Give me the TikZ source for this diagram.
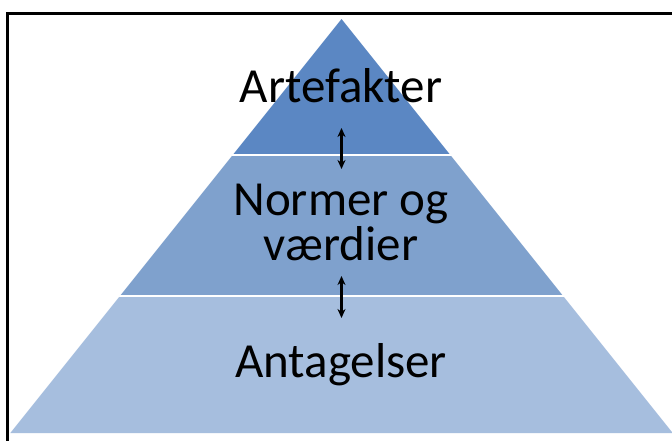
\documentclass[tikz,border=0pt]{standalone}
\usepackage{fontspec}
\setmainfont{Carlito}
\usetikzlibrary{arrows.meta}
\definecolor{tierTop}{RGB}{91,135,195}
\definecolor{tierMid}{RGB}{127,161,205}
\definecolor{tierLow}{RGB}{166,190,222}
\tikzset{
  label/.style={anchor=base, font=\fontsize{49}{49}\selectfont, text=black, inner sep=0pt},
  link/.style={{Stealth[length=9pt,width=8pt]}-{Stealth[length=9pt,width=8pt]}, line width=2.4pt, black},
  divider/.style={white, line width=2pt}
}
\begin{document}
\begin{tikzpicture}[x=1pt,y=-1pt]
\useasboundingbox (0,0) rectangle (672,441);
\clip (0,0) rectangle (672,441);
\fill[white] (0,0) rectangle (672,441);
% outer frame
\draw[line width=3pt] (7.5,13.5) rectangle (690,460);
% pyramid tiers: apex (341.5,19), base y=433 from x=10 to x=673
\coordinate (apex) at (341.5,19);
\fill[tierTop] (apex) -- (341.5-0.8*136,155) -- (341.5+0.8*136,155) -- cycle;
\fill[tierMid] (341.5-0.8*137,156) -- (341.5+0.8*137,156) -- (341.5+0.8*277,296) -- (341.5-0.8*277,296) -- cycle;
\fill[tierLow] (341.5-0.8*278,297) -- (341.5+0.8*278,297) -- (341.5+0.8*414,433) -- (341.5-0.8*414,433) -- cycle;
\draw[divider] (341.5-0.8*136.5,155.5) -- (341.5+0.8*136.5+2,155.5);
\draw[divider] (341.5-0.8*276.5,296) -- (341.5+0.8*276.5+2,296);
% labels
\node[label] (art) at (341,103) {Artefakter};
\node[label] (norm) at (341,215) {Normer og};
\node[label] (vaerd) at (341,260) {værdier};
\node[label] (ant) at (341,377) {Antagelser};
% links between levels
\coordinate (a1) at (341.5,128);
\coordinate (a2) at (341.5,169);
\coordinate (b1) at (341.5,276);
\coordinate (b2) at (341.5,318);
\draw[link] (a1) -- (a2);
\draw[link] (b1) -- (b2);
\end{tikzpicture}
\end{document}
